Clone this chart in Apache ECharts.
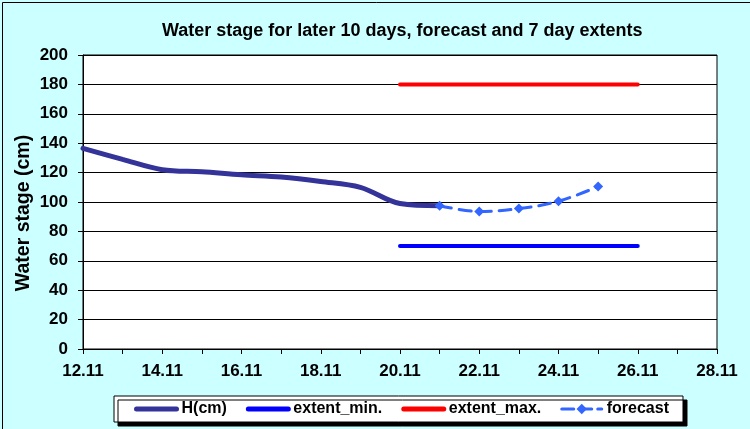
<!DOCTYPE html>
<html>
<head>
<meta charset="utf-8">
<script src="https://cdn.jsdelivr.net/npm/echarts@6/dist/echarts.min.js"></script>
<style>
html,body{margin:0;padding:0;background:#CCFFFF;}
#c{width:750px;height:429px;}
</style>
</head>
<body>
<div id="c"></div>
<script>
var categories = ['12.11','13.11','14.11','15.11','16.11','17.11','18.11','19.11','20.11','21.11','22.11','23.11','24.11','25.11','26.11','27.11','28.11'];
var hCm = [136.5,129,122,120.5,118.5,117,114,110,99,97.5,null,null,null,null,null,null,null];
var extentMin = [null,null,null,null,null,null,null,null,70,70,70,70,70,70,70,null,null];
var extentMax = [null,null,null,null,null,null,null,null,180,180,180,180,180,180,180,null,null];
var forecast = [null,null,null,null,null,null,null,null,null,97.5,93.5,95.5,100.5,110.5,null,null,null];
var yMin = 0, yMax = 200, yStep = 20;

var FONT = '"Liberation Sans", Arial, sans-serif';
var chart = echarts.init(document.getElementById('c'), null, {renderer:'canvas'});
var noSym = {opacity: 0};
chart.setOption({
  backgroundColor: '#CCFFFF',
  animation: false,
  title: {
    text: 'Water stage for later 10 days, forecast and 7 day extents',
    left: 157, top: 17,
    textStyle: {fontFamily: FONT, fontWeight: 'bold', fontSize: 18, color: '#000'}
  },
  graphic: [{
    type: 'rect', left: 0, top: 0, z: 100, silent: true,
    shape: {x: 0.5, y: 0.5, width: 749, height: 428},
    style: {fill: 'none', stroke: '#000', lineWidth: 1}
  }],
  grid: {left: 83, right: 33, top: 55, bottom: 80, show: true, backgroundColor: '#fff', borderColor: '#000', borderWidth: 1},
  legend: {
    left: 114, top: 396,
    padding: [5, 14, 5, 20],
    itemGap: 19, itemWidth: 40, itemHeight: 13,
    backgroundColor: '#fff', borderColor: '#000', borderWidth: 1,
    shadowColor: '#000', shadowBlur: 0, shadowOffsetX: 4, shadowOffsetY: 4,
    textStyle: {fontFamily: FONT, fontWeight: 'bold', fontSize: 16, color: '#000'},
    data: [
      {name: 'H(cm)', itemStyle: noSym, lineStyle: {width: 5, cap: 'round'}},
      {name: 'extent_min.', itemStyle: noSym, lineStyle: {width: 5, cap: 'round'}},
      {name: 'extent_max.', itemStyle: noSym, lineStyle: {width: 5, cap: 'round'}},
      {name: 'forecast', lineStyle: {width: 3, type: [12, 6], cap: 'round'}}
    ]
  },
  xAxis: {
    type: 'category', data: categories, boundaryGap: false,
    axisLine: {lineStyle: {color: '#000', width: 1}},
    axisTick: {interval: 0, length: 5, lineStyle: {color: '#000'}},
    axisLabel: {interval: 1, margin: 14, fontFamily: FONT, fontWeight: 'bold', fontSize: 17, color: '#000'},
    splitLine: {show: false}
  },
  yAxis: {
    type: 'value', min: yMin, max: yMax, interval: yStep,
    name: 'Water stage (cm)', nameLocation: 'middle', nameGap: 49, nameMoveOverlap: false,
    nameTextStyle: {fontFamily: FONT, fontWeight: 'bold', fontSize: 19.5, color: '#000', padding: [0, 22, 0, 0]},
    axisLine: {show: true, lineStyle: {color: '#000'}},
    axisTick: {show: true, length: 5, lineStyle: {color: '#000'}},
    axisLabel: {margin: 15, fontFamily: FONT, fontWeight: 'bold', fontSize: 17, color: '#000'},
    splitLine: {lineStyle: {color: '#000', width: 1}}
  },
  series: [
    {name: 'H(cm)', type: 'line', data: hCm, smooth: 0.35, showSymbol: false, symbol: 'none',
     lineStyle: {color: '#333399', width: 5, cap: 'round'}, itemStyle: {color: '#333399'}, z: 3},
    {name: 'extent_min.', type: 'line', data: extentMin, showSymbol: false, symbol: 'none',
     lineStyle: {color: '#0000FF', width: 4, cap: 'round'}, itemStyle: {color: '#0000FF'}},
    {name: 'extent_max.', type: 'line', data: extentMax, showSymbol: false, symbol: 'none',
     lineStyle: {color: '#FF0000', width: 4, cap: 'round'}, itemStyle: {color: '#FF0000'}},
    {name: 'forecast', type: 'line', data: forecast, smooth: 0.35, symbol: 'diamond', symbolSize: 10, showSymbol: true,
     lineStyle: {color: '#3366FF', width: 3, type: [12, 8], cap: 'round'}, itemStyle: {color: '#3366FF'}, z: 4}
  ]
});
</script>
</body>
</html>
